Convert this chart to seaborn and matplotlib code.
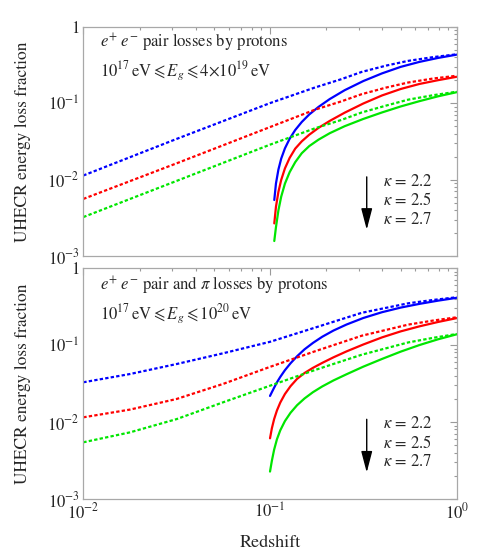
import numpy as np
import pandas as pd
import matplotlib
matplotlib.use('Agg')
import matplotlib.pyplot as plt
import seaborn as sns
from matplotlib.ticker import LogLocator, NullFormatter

# 값은 그림에서 읽은 것
# 위쪽 패널: e+e- pair losses
z_dot_top = [0.01, 0.0316, 0.1, 0.174, 0.24, 0.31, 0.42, 0.55, 0.75, 1.0]
blue_dot_top = [0.0113, 0.034, 0.1, 0.16, 0.205, 0.256, 0.31, 0.357, 0.40, 0.435]
red_dot_top = [0.00558, 0.0163, 0.0486, 0.082, 0.105, 0.131, 0.16, 0.186, 0.21, 0.228]
green_dot_top = [0.00323, 0.0096, 0.0286, 0.0468, 0.06, 0.0755, 0.093, 0.111, 0.127, 0.141]

z_sol_top = [0.1054, 0.1076, 0.1109, 0.1148, 0.1202, 0.1274, 0.1365, 0.1479, 0.1622,
             0.182, 0.2089, 0.2512, 0.3162, 0.3981, 0.5012, 0.631, 0.7943, 1.0]
blue_sol_top = [0.0054, 0.00887, 0.0135, 0.0188, 0.0256, 0.0342, 0.0445, 0.0566, 0.071,
                0.0893, 0.113, 0.1476, 0.1945, 0.2449, 0.2979, 0.346, 0.39, 0.4305]
red_sol_top = [0.00267, 0.0044, 0.00689, 0.0099, 0.014, 0.0192, 0.0254, 0.0316, 0.0386,
               0.0475, 0.0585, 0.075, 0.0989, 0.126, 0.153, 0.178, 0.1995, 0.221]
green_sol_top = [0.00157, 0.00238, 0.00395, 0.00598, 0.00885, 0.0125, 0.0169, 0.0221, 0.0274,
                 0.0333, 0.0404, 0.0499, 0.0621, 0.0755, 0.0904, 0.106, 0.1227, 0.139]

# 아래쪽 패널: pair + pion losses
z_dot_bot = [0.01, 0.0178, 0.0316, 0.056, 0.1, 0.174, 0.31, 0.55, 0.75, 1.0]
blue_dot_bot = [0.0328, 0.042, 0.0566, 0.078, 0.11, 0.168, 0.262, 0.348, 0.385, 0.417]
red_dot_bot = [0.0115, 0.0145, 0.0199, 0.0312, 0.052, 0.0828, 0.132, 0.184, 0.208, 0.229]
green_dot_bot = [0.00545, 0.00734, 0.0109, 0.018, 0.0296, 0.0473, 0.0748, 0.108, 0.124, 0.139]

z_sol_bot = [0.1, 0.1023, 0.1052, 0.1089, 0.1135, 0.1202, 0.1288, 0.1396, 0.1531, 0.1698,
             0.1905, 0.2188, 0.257, 0.3162, 0.3981, 0.5012, 0.631, 0.7943, 1.0]
blue_sol_bot = [0.0218, 0.0244, 0.0279, 0.0327, 0.0385, 0.0471, 0.0579, 0.0714, 0.0879, 0.1064,
                0.128, 0.1542, 0.1845, 0.2244, 0.2667, 0.3062, 0.342, 0.3767, 0.41]
red_sol_bot = [0.00614, 0.00828, 0.0109, 0.0141, 0.0179, 0.0231, 0.0292, 0.0363, 0.0433, 0.0505,
               0.0586, 0.0692, 0.0826, 0.1016, 0.1256, 0.1503, 0.1746, 0.1991, 0.2234]
green_sol_bot = [0.00227, 0.00313, 0.00437, 0.00596, 0.0078, 0.01028, 0.01318, 0.01652, 0.02023,
                 0.02438, 0.02897, 0.03467, 0.04169, 0.05236, 0.0659, 0.082, 0.0998, 0.1186, 0.1377]

kappa_labels = ['2.2', '2.5', '2.7']
y_ticks = [1e-3, 1e-2, 1e-1, 1]
y_ticklabels = ['$10^{-3}$', '$10^{-2}$', '$10^{-1}$', '$1$']
x_ticks = [1e-2, 1e-1, 1]
x_ticklabels = ['$10^{-2}$', '$10^{-1}$', '$10^{0}$']

colors = {'blue': '#0000ff', 'red': '#ff0000', 'green': '#00e600'}

sns.set_style('white')
plt.rcParams['font.family'] = ['STIXGeneral', 'DejaVu Serif']
plt.rcParams['mathtext.fontset'] = 'stix'

fig = plt.figure(figsize=(4.98, 5.51), dpi=100)
ax1 = fig.add_axes([0.1673, 0.5354, 0.7498, 0.4162])
ax2 = fig.add_axes([0.1673, 0.0944, 0.7498, 0.4192])

dotted = (0, (1.5, 1.0))


def draw_panel(ax, z_dot, dots, z_sol, sols):
    ax.set_xscale('log')
    ax.set_yscale('log')
    for (name, d), s in zip(dots.items(), sols.values()):
        sns.lineplot(x=z_dot, y=d, ax=ax, color=colors[name], lw=1.6,
                     linestyle=dotted, estimator=None, sort=False)
        sns.lineplot(x=z_sol, y=s, ax=ax, color=colors[name], lw=1.6,
                     estimator=None, sort=False)
    ax.set_xlim(0.01, 1)
    ax.set_ylim(1e-3, 1)
    ax.set_yticks(y_ticks)
    ax.set_yticklabels(y_ticklabels)
    ax.set_xticks(x_ticks)
    ax.xaxis.set_minor_locator(LogLocator(base=10, subs=np.arange(2, 10)))
    ax.yaxis.set_minor_locator(LogLocator(base=10, subs=np.arange(2, 10)))
    ax.xaxis.set_minor_formatter(NullFormatter())
    ax.yaxis.set_minor_formatter(NullFormatter())
    ax.tick_params(which='both', direction='in', top=True, right=True,
                   color='#9a9a9a', width=0.8, labelsize=12, pad=2.5)
    ax.tick_params(which='major', length=5)
    ax.tick_params(which='minor', length=2.5)
    for sp in ax.spines.values():
        sp.set_color('#a8a8a8')
        sp.set_linewidth(0.9)
    ax.set_ylabel('UHECR energy loss fraction', fontsize=12.5)
    ax.yaxis.set_label_coords(-0.14, 0.5)

    # κ 범례와 화살표
    ax.annotate('', xy=(0.759, 0.115), xytext=(0.759, 0.345),
                xycoords='axes fraction', textcoords='axes fraction',
                arrowprops=dict(arrowstyle='-|>,head_length=0.65,head_width=0.17',
                                color='black', lw=1.0, mutation_scale=20,
                                shrinkA=0, shrinkB=0))
    for i, k in enumerate(kappa_labels):
        ax.text(0.803, 0.323 - i * 0.082, r'$\kappa$ = ' + k, transform=ax.transAxes,
                fontsize=12, va='center', ha='left')


draw_panel(ax1, z_dot_top,
           {'blue': blue_dot_top, 'red': red_dot_top, 'green': green_dot_top},
           z_sol_top,
           {'blue': blue_sol_top, 'red': red_sol_top, 'green': green_sol_top})
draw_panel(ax2, z_dot_bot,
           {'blue': blue_dot_bot, 'red': red_dot_bot, 'green': green_dot_bot},
           z_sol_bot,
           {'blue': blue_sol_bot, 'red': red_sol_bot, 'green': green_sol_bot})

ax1.set_xticklabels([])
ax2.set_xticklabels(x_ticklabels)
ax2.set_xlabel('Redshift', fontsize=13)
ax2.xaxis.set_label_coords(0.5, -0.155)

ax1.text(0.045, 0.928, r'$e^{+}\;e^{-}$ pair losses by protons', transform=ax1.transAxes,
         fontsize=12, va='center')
ax1.text(0.045, 0.804, r'$10^{17}\,\mathrm{eV} \leqslant E_g \leqslant 4{\times}10^{19}\,\mathrm{eV}$',
         transform=ax1.transAxes, fontsize=12, va='center')
ax2.text(0.045, 0.925, r'$e^{+}\;e^{-}$ pair and $\pi$ losses by protons', transform=ax2.transAxes,
         fontsize=12, va='center')
ax2.text(0.045, 0.802, r'$10^{17}\,\mathrm{eV} \leqslant E_g \leqslant 10^{20}\,\mathrm{eV}$',
         transform=ax2.transAxes, fontsize=12, va='center')

fig.savefig('out.png', dpi=100)
